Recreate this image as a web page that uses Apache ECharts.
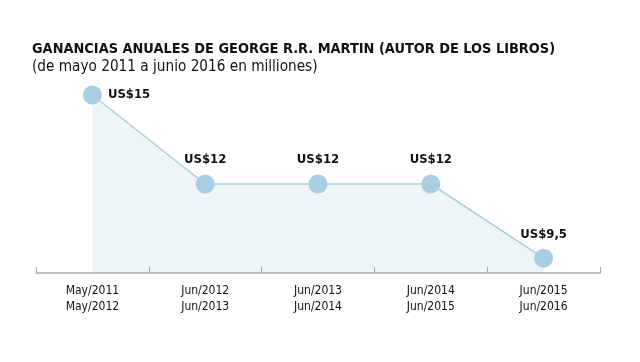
<!DOCTYPE html>
<html><head><meta charset="utf-8">
<script src="https://cdn.jsdelivr.net/npm/echarts@6/dist/echarts.min.js"></script>
<style>html,body{margin:0;padding:0;background:#fff}#c{width:640px;height:362px}</style>
</head><body><div id="c"></div>
<script>
const categories = ["May/2011\nMay/2012", "Jun/2012\nJun/2013", "Jun/2013\nJun/2014", "Jun/2014\nJun/2015", "Jun/2015\nJun/2016"];
const earnings = [15, 12, 12, 12, 9.5];
const valueLabels = ["US$15", "US$12", "US$12", "US$12", "US$9,5"];
const titleText = "GANANCIAS ANUALES DE GEORGE R.R. MARTIN (AUTOR DE LOS LIBROS)";
const subtitleText = "(de mayo 2011 a junio 2016 en milliones)";

const FONT = "'DejaVu Sans Condensed', 'Liberation Sans Narrow', sans-serif";
const chart = echarts.init(document.getElementById('c'));
chart.setOption({
  backgroundColor: '#fff',
  animation: false,
  title: {
    text: titleText,
    subtext: subtitleText,
    left: 27, top: 37,
    itemGap: 4,
    textStyle: {fontFamily: FONT, fontWeight: 'bold', fontSize: 14.4, color: '#111'},
    subtextStyle: {fontFamily: FONT, fontSize: 15.2, color: '#111'}
  },
  grid: {left: 36, right: 40, top: 95, bottom: 89},
  xAxis: {
    type: 'category',
    data: categories,
    boundaryGap: true,
    z: 5,
    axisLine: {lineStyle: {color: '#aaaaaa', width: 1.5}},
    axisTick: {show: true, inside: true, length: 6, lineStyle: {color: '#aaaaaa', width: 1}},
    axisLabel: {fontFamily: FONT, fontSize: 12, color: '#111', lineHeight: 16, margin: 10}
  },
  yAxis: {
    type: 'value', min: 9, max: 15,
    show: false
  },
  series: [{
    type: 'line',
    z: 2,
    data: earnings.map((v, i) => ({
      value: v,
      label: i === 0 ? {position: 'right', distance: 6} : {position: 'top', distance: 8}
    })),
    symbol: 'circle',
    symbolSize: 19,
    itemStyle: {color: '#a6cfe6'},
    lineStyle: {color: '#a9cfdc', width: 1.5},
    areaStyle: {color: '#eef5f7', opacity: 1},
    label: {
      show: true,
      fontFamily: FONT, fontWeight: 'bold', fontSize: 13, color: '#111',
      formatter: p => valueLabels[p.dataIndex]
    }
  }]
});
</script></body></html>
